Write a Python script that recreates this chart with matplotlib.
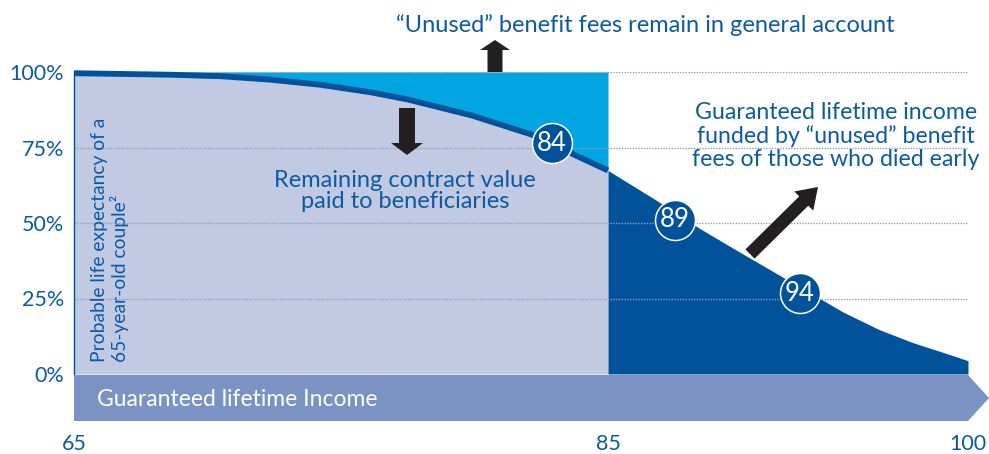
import matplotlib
matplotlib.use('Agg')
import matplotlib.pyplot as plt
import numpy as np
from matplotlib.patches import Polygon

plt.rcParams['font.family'] = ['Lato', 'DejaVu Sans']

# survival curve of a 65-year-old couple
ages = np.array([65.0, 68.6, 70.5, 72.3, 74.2, 76.1, 77.5, 79.9, 82.1, 82.9, 84.0,
                 85.0, 87.0, 87.8, 88.8, 90.5, 92.3, 93.0, 94.8, 96.3, 97.7,
                 99.1, 100.0])
surv = np.array([99.6, 99.1, 98.6, 97.5, 95.8, 93.3, 90.9, 85.6, 79.4, 76.1, 71.5,
                 67.4, 57.6, 53.5, 48.3, 40.3, 32.0, 28.8, 20.5, 14.7, 10.4,
                 6.8, 4.4])

circle_labels = ['84', '89', '94']
circle_x = [82.9, 87.8, 93.0]
circle_y = [76.4, 51.0, 26.7]

y_ticks = [0, 25, 50, 75, 100]
y_tick_labels = ['0%', '25%', '50%', '75%', '100%']
x_ticks = [65, 85, 100]
split_age = 85

TEXT_BLUE = '#0b5aa6'
DARK = '#00529b'
CYAN = '#00a5e2'
LAVENDER = '#c2c9e3'
BAND = '#7b92c4'
GRID = '#8d9cc6'
BLACK = '#231f20'

W, H = 989, 454
fig = plt.figure(figsize=(W / 100, H / 100), dpi=100)

# axes box in pixel terms: x 65 -> 74px, 100 -> 968px ; y 100% -> 72px, 0% -> 374px
ax = fig.add_axes([74 / W, 1 - 374 / H, (968 - 74) / W, (374 - 72) / H])

# the age axis is not quite linear in the original: 65-85 wider than 85-100
L1, L2 = 534.0, 360.0


def fwd(x):
    x = np.asarray(x, dtype=float)
    return np.where(x <= 85, (x - 65) / 20 * L1, L1 + (x - 85) / 15 * L2)


def inv(u):
    u = np.asarray(u, dtype=float)
    return np.where(u <= L1, 65 + u / L1 * 20, 85 + (u - L1) / L2 * 15)


ax.set_xscale('function', functions=(fwd, inv))
ax.set_xlim(65, 100)
ax.set_ylim(0, 100)

left = ages <= split_age
right = ages >= split_age

ax.fill_between(ages[left], 0, surv[left], color=LAVENDER, lw=0, zorder=1)
ax.fill_between(ages[left], surv[left], 100, color=CYAN, lw=0, zorder=1)
ax.fill_between(ages[right], 0, surv[right], color=DARK, lw=0, zorder=1)

for yv in y_ticks[1:]:
    ax.axhline(yv, color=GRID, lw=1, ls=(0, (1, 1)), zorder=2)

ax.plot(ages[left], surv[left], color=DARK, lw=4.2, solid_capstyle='butt',
        solid_joinstyle='round', zorder=3, clip_on=False)

ax.scatter(circle_x, circle_y, s=830, facecolor=DARK, edgecolor='white',
           linewidth=1.1, zorder=4, clip_on=False)
for lab, cx, cy in zip(circle_labels, circle_x, circle_y):
    ax.text(cx, cy, lab, color='white', fontsize=18.5, ha='center', va='center',
            zorder=5)

for s in ['top', 'right', 'bottom']:
    ax.spines[s].set_visible(False)
ax.spines['left'].set_color(DARK)
ax.spines['left'].set_linewidth(1)
ax.spines['left'].set_zorder(3)

ax.set_yticks(y_ticks)
ax.set_yticklabels(y_tick_labels)
ax.set_xticks(x_ticks)
ax.set_xticklabels([str(v) for v in x_ticks])
ax.tick_params(axis='y', length=0, pad=7, labelsize=15.5, labelcolor=TEXT_BLUE)
ax.tick_params(axis='x', length=0, pad=43, labelsize=15.5, labelcolor=TEXT_BLUE)
ax.minorticks_off()


def fpt(px, py):
    return (px / W, 1 - py / H)


def arrow(x0, y0, x1, y1, sw, hw, hl, color=BLACK):
    p0 = np.array([x0, y0], float)
    p1 = np.array([x1, y1], float)
    d = (p1 - p0) / np.hypot(*(p1 - p0))
    n = np.array([-d[1], d[0]])
    base = p1 - d * hl
    pts = [p0 + n * sw / 2, base + n * sw / 2, base + n * hw / 2, p1,
           base - n * hw / 2, base - n * sw / 2, p0 - n * sw / 2]
    fig.patches.append(Polygon([fpt(*p) for p in pts], closed=True,
                               transform=fig.transFigure, facecolor=color,
                               edgecolor='none', zorder=6))


# timeline band with arrow tip
band = [fpt(74, 375), fpt(968, 375), fpt(989, 398), fpt(968, 421), fpt(74, 421)]
fig.patches.append(Polygon(band, closed=True, transform=fig.transFigure,
                           facecolor=BAND, edgecolor='none'))
fig.text(97 / W, 1 - 399 / H, 'Guaranteed lifetime Income', color='white',
         fontsize=16.5, ha='left', va='center')

arrow(495, 72, 495, 40, 15, 30, 10)
arrow(407, 108, 407, 155, 16, 32, 12)
arrow(750, 254, 818, 187, 13, 27, 20)

fig.text(645 / W, 1 - 25 / H, '\u201cUnused\u201d benefit fees remain in general account',
         color=TEXT_BLUE, fontsize=17, ha='center', va='center')
fig.text(405 / W, 1 - 191 / H, 'Remaining contract value\npaid to beneficiaries',
         color=TEXT_BLUE, fontsize=17, ha='center', va='center',
         linespacing=1.05)
fig.text(836 / W, 1 - 136 / H,
         'Guaranteed lifetime income\nfunded by \u201cunused\u201d benefit\nfees of those who died early',
         color=TEXT_BLUE, fontsize=16.7, ha='center', va='center',
         linespacing=1.1)
fig.text(110 / W, 1 - 362 / H, 'Probable life expectancy of a\n65-year-old couple\u00b2',
         color=TEXT_BLUE, fontsize=13.9, rotation=90, rotation_mode='anchor',
         ha='left', va='center', multialignment='left', linespacing=1.1)

fig.savefig('out.png', dpi=100)
